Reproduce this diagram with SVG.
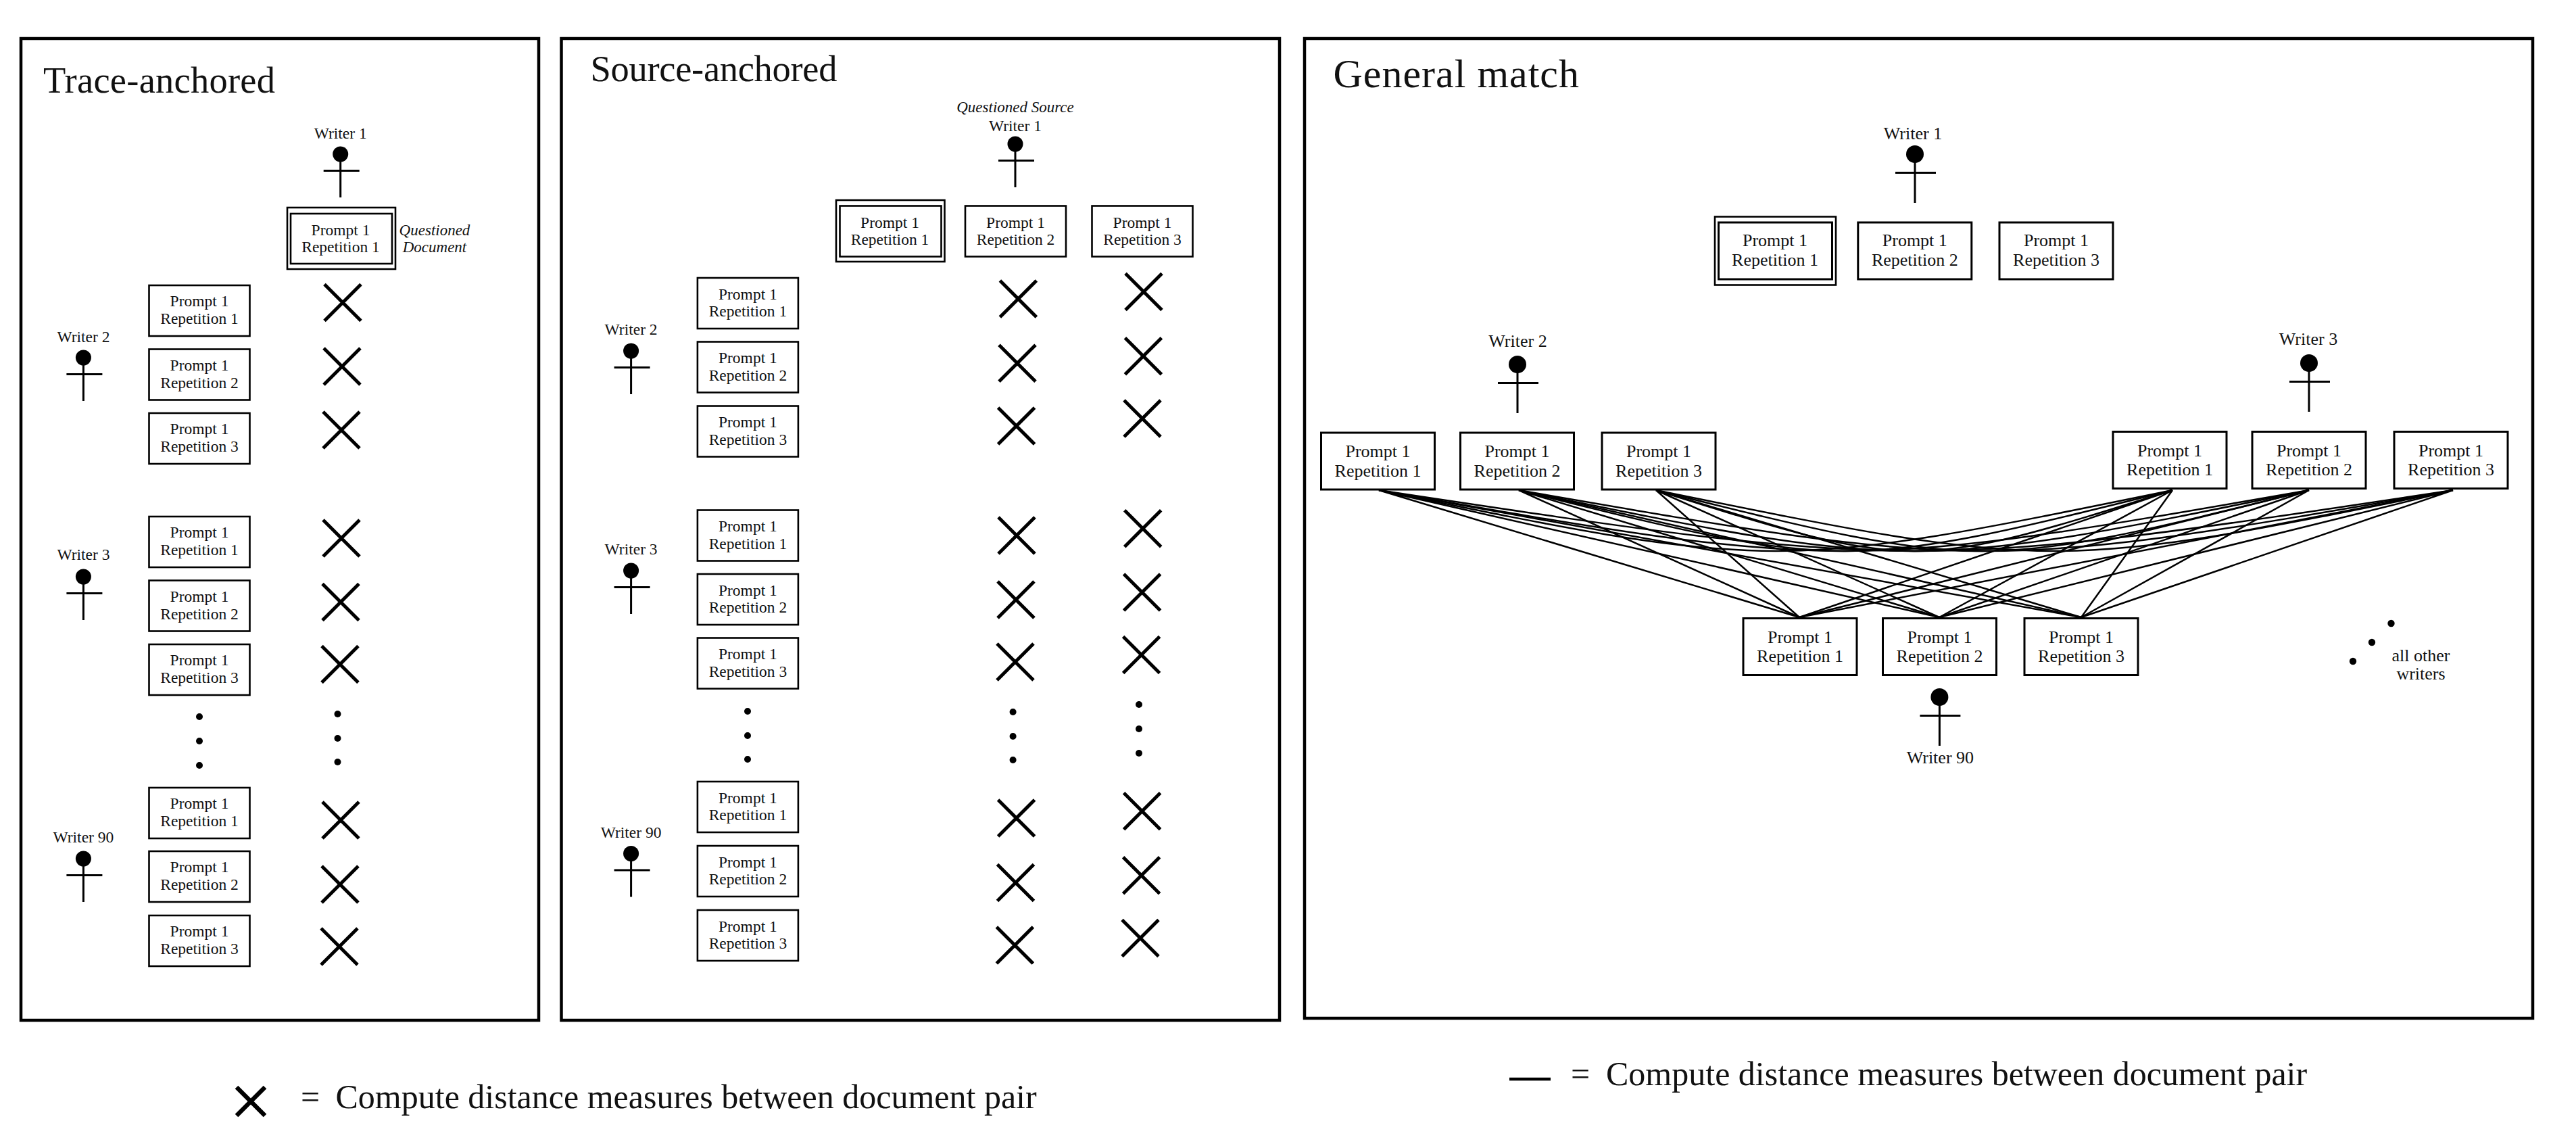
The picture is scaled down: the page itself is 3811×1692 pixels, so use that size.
<svg xmlns="http://www.w3.org/2000/svg" xmlns:xlink="http://www.w3.org/1999/xlink" width="3811" height="1692" viewBox="0 0 3811 1692">
<style>
text{font-family:"Liberation Serif","Times New Roman",serif;fill:#111;text-anchor:middle}
.title{font-size:54.5px;text-anchor:start}
.title3{font-size:60px;text-anchor:start}
.s{font-size:23.5px}
.l{font-size:26px}
.i{font-size:23px;font-style:italic}
.leg{font-size:50px;text-anchor:start}
.panel{fill:#fff;stroke:#000;stroke-width:4.5}
.box{fill:#fff;stroke:#000;stroke-width:2.6}
.bigbox{fill:#fff;stroke:#000;stroke-width:3}
.x{fill:none;stroke:#000;stroke-width:5}
.body{fill:none;stroke:#000;stroke-width:3}
.conn path{fill:none;stroke:#000;stroke-width:2.5}
</style>
<defs>
<path id="xm" class="x" d="M-27-27L27 27M27-27L-27 27"/>
<g id="ps"><circle r="11.5"/><path class="body" d="M-25 24.5H28M0 0V64"/></g>
<g id="pl"><circle r="13"/><path class="body" d="M-29 27.5H31M0 0V72"/></g>
<rect id="bs" class="box" x="-74.5" y="0" width="149" height="75"/>
<rect id="bl" class="bigbox" x="-84" y="0" width="168" height="84"/>
</defs>
<rect x="0" y="0" width="3811" height="1692" fill="#fff"/>

<g id="panel-trace">
<rect class="panel" x="31" y="57" width="766" height="1452"/>
<text class="title" x="64" y="137" textLength="343">Trace-anchored</text>
</g>
<g id="panel-source">
<rect class="panel" x="830.5" y="57" width="1062.5" height="1452"/>
<text class="title" x="873.5" y="120" textLength="365">Source-anchored</text>
</g>
<g id="panel-general">
<rect class="panel" x="1930" y="57" width="1817" height="1449"/>
<text class="title3" x="1972.5" y="129" textLength="363.5">General match</text>
</g>

<g id="t-writer1" transform="translate(503.7 228)"><use href="#ps"/><text class="s" y="-23.5">Writer 1</text></g>
<g id="t-writer2" transform="translate(123.4 529)"><use href="#ps"/><text class="s" y="-23.5">Writer 2</text></g>
<g id="t-writer3" transform="translate(123.4 853)"><use href="#ps"/><text class="s" y="-25">Writer 3</text></g>
<g id="t-writer90" transform="translate(123.4 1270)"><use href="#ps"/><text class="s" y="-24">Writer 90</text></g>

<g id="t-q">
<rect class="box" x="425" y="307" width="160" height="91"/>
<rect class="box" x="430" y="316" width="150" height="74"/>
<text class="s" x="504" y="347.5">Prompt 1</text><text class="s" x="504" y="373">Repetition 1</text>
<text class="i" x="643" y="348">Questioned</text><text class="i" x="643" y="373">Document</text>
</g>
<g id="t-w2r1" transform="translate(295 422)"><use href="#bs"/><text class="s" y="31">Prompt 1</text><text class="s" y="57">Repetition 1</text></g>
<g id="t-w2r2" transform="translate(295 516.5)"><use href="#bs"/><text class="s" y="31">Prompt 1</text><text class="s" y="57">Repetition 2</text></g>
<g id="t-w2r3" transform="translate(295 611)"><use href="#bs"/><text class="s" y="31">Prompt 1</text><text class="s" y="57">Repetition 3</text></g>
<g id="t-w3r1" transform="translate(295 764)"><use href="#bs"/><text class="s" y="31">Prompt 1</text><text class="s" y="57">Repetition 1</text></g>
<g id="t-w3r2" transform="translate(295 858.5)"><use href="#bs"/><text class="s" y="31">Prompt 1</text><text class="s" y="57">Repetition 2</text></g>
<g id="t-w3r3" transform="translate(295 953)"><use href="#bs"/><text class="s" y="31">Prompt 1</text><text class="s" y="57">Repetition 3</text></g>
<g id="t-w90r1" transform="translate(295 1165)"><use href="#bs"/><text class="s" y="31">Prompt 1</text><text class="s" y="57">Repetition 1</text></g>
<g id="t-w90r2" transform="translate(295 1259)"><use href="#bs"/><text class="s" y="31">Prompt 1</text><text class="s" y="57">Repetition 2</text></g>
<g id="t-w90r3" transform="translate(295 1354)"><use href="#bs"/><text class="s" y="31">Prompt 1</text><text class="s" y="57">Repetition 3</text></g>
<g id="t-marks">
<use href="#xm" x="507" y="447.5"/><use href="#xm" x="506" y="542"/><use href="#xm" x="505" y="636"/>
<use href="#xm" x="505" y="796"/><use href="#xm" x="504" y="890.5"/><use href="#xm" x="503" y="982.5"/>
<use href="#xm" x="504" y="1213"/><use href="#xm" x="503" y="1308"/><use href="#xm" x="502" y="1400"/>
<circle cx="295" cy="1060" r="5"/><circle cx="295" cy="1096" r="5"/><circle cx="295" cy="1132" r="5"/>
<circle cx="499.5" cy="1056" r="5"/><circle cx="499.5" cy="1092" r="5"/><circle cx="499.5" cy="1127" r="5"/>
</g>

<g id="s-writer1" transform="translate(1502 213)"><use href="#ps"/><text class="s" y="-19">Writer 1</text><text class="i" y="-47">Questioned Source</text></g>
<g id="s-writer2" transform="translate(933.6 519)"><use href="#ps"/><text class="s" y="-24.5">Writer 2</text></g>
<g id="s-writer3" transform="translate(933.6 844)"><use href="#ps"/><text class="s" y="-24.5">Writer 3</text></g>
<g id="s-writer90" transform="translate(933.6 1262.5)"><use href="#ps"/><text class="s" y="-24">Writer 90</text></g>
<g id="s-q">
<rect class="box" x="1237" y="296" width="160.5" height="91"/>
<rect class="box" x="1242.5" y="304.5" width="150" height="75"/>
<text class="s" x="1316.5" y="337">Prompt 1</text><text class="s" x="1316.5" y="362">Repetition 1</text>
</g>
<g id="s-w1r2" transform="translate(1502.5 304.5)"><use href="#bs"/><text class="s" y="32.5">Prompt 1</text><text class="s" y="57.5">Repetition 2</text></g>
<g id="s-w1r3" transform="translate(1690 304.5)"><use href="#bs"/><text class="s" y="32.5">Prompt 1</text><text class="s" y="57.5">Repetition 3</text></g>
<g id="s-w2r1" transform="translate(1106.4 411)"><use href="#bs"/><text class="s" y="31.5">Prompt 1</text><text class="s" y="57">Repetition 1</text></g>
<g id="s-w2r2" transform="translate(1106.4 505.5)"><use href="#bs"/><text class="s" y="31.5">Prompt 1</text><text class="s" y="57">Repetition 2</text></g>
<g id="s-w2r3" transform="translate(1106.4 600.5)"><use href="#bs"/><text class="s" y="31.5">Prompt 1</text><text class="s" y="57">Repetition 3</text></g>
<g id="s-w3r1" transform="translate(1106.4 754.5)"><use href="#bs"/><text class="s" y="31.5">Prompt 1</text><text class="s" y="57">Repetition 1</text></g>
<g id="s-w3r2" transform="translate(1106.4 849)"><use href="#bs"/><text class="s" y="31.5">Prompt 1</text><text class="s" y="57">Repetition 2</text></g>
<g id="s-w3r3" transform="translate(1106.4 943.5)"><use href="#bs"/><text class="s" y="31.5">Prompt 1</text><text class="s" y="57">Repetition 3</text></g>
<g id="s-w90r1" transform="translate(1106.4 1156)"><use href="#bs"/><text class="s" y="31.5">Prompt 1</text><text class="s" y="57">Repetition 1</text></g>
<g id="s-w90r2" transform="translate(1106.4 1251)"><use href="#bs"/><text class="s" y="31.5">Prompt 1</text><text class="s" y="57">Repetition 2</text></g>
<g id="s-w90r3" transform="translate(1106.4 1346)"><use href="#bs"/><text class="s" y="31.5">Prompt 1</text><text class="s" y="57">Repetition 3</text></g>
<g id="s-marks">
<use href="#xm" x="1506.4" y="442"/><use href="#xm" x="1505" y="537.3"/><use href="#xm" x="1503.6" y="630"/>
<use href="#xm" x="1504" y="792"/><use href="#xm" x="1503" y="887"/><use href="#xm" x="1502" y="979"/>
<use href="#xm" x="1503.6" y="1210"/><use href="#xm" x="1502.5" y="1305.5"/><use href="#xm" x="1501.4" y="1398"/>
<use href="#xm" x="1692" y="431.6"/><use href="#xm" x="1691.4" y="526.7"/><use href="#xm" x="1690" y="619"/>
<use href="#xm" x="1690.7" y="781.7"/><use href="#xm" x="1689.6" y="876"/><use href="#xm" x="1688.6" y="968.4"/>
<use href="#xm" x="1689.6" y="1199.7"/><use href="#xm" x="1688.6" y="1294.8"/><use href="#xm" x="1687" y="1387.5"/>
<circle cx="1106" cy="1052" r="5"/><circle cx="1106" cy="1088" r="5"/><circle cx="1106" cy="1123" r="5"/>
<circle cx="1498.6" cy="1053" r="5"/><circle cx="1498.6" cy="1089" r="5"/><circle cx="1498.6" cy="1124" r="5"/>
<circle cx="1685" cy="1042" r="5"/><circle cx="1685" cy="1078" r="5"/><circle cx="1685" cy="1114" r="5"/>
</g>

<g id="connectors" class="conn">
<path d="M2040 725C2627 845 2627 845 3214 725"/>
<path d="M2040 725C2728 845 2728 845 3416 725"/>
<path d="M2040 725C2834.5 845 2834.5 845 3629 725"/>
<path d="M2247 725C2730.5 845 2730.5 845 3214 725"/>
<path d="M2247 725C2831.5 845 2831.5 845 3416 725"/>
<path d="M2247 725C2938 845 2938 845 3629 725"/>
<path d="M2450 725C2832 845 2832 845 3214 725"/>
<path d="M2450 725C2933 845 2933 845 3416 725"/>
<path d="M2450 725C3039.5 845 3039.5 845 3629 725"/>
<path d="M2040 725L2662 913M2040 725L2869 913M2040 725L3079 913"/>
<path d="M2247 725L2662 913M2247 725L2869 913M2247 725L3079 913"/>
<path d="M2450 725L2662 913M2450 725L2869 913M2450 725L3079 913"/>
<path d="M3214 725L2662 913M3214 725L2869 913M3214 725L3079 913"/>
<path d="M3416 725L2662 913M3416 725L2869 913M3416 725L3079 913"/>
<path d="M3629 725L2662 913M3629 725L2869 913M3629 725L3079 913"/>
</g>

<g id="g-writer1" transform="translate(2833 228)"><use href="#pl"/><text class="l" x="-3" y="-22.5">Writer 1</text></g>
<g id="g-writer2" transform="translate(2245 539)"><use href="#pl"/><text class="l" x="0.5" y="-26">Writer 2</text></g>
<g id="g-writer3" transform="translate(3416 537)"><use href="#pl"/><text class="l" x="-1" y="-27">Writer 3</text></g>
<g id="g-writer90" transform="translate(2869.4 1031)"><use href="#pl"/><text class="l" x="1" y="98">Writer 90</text></g>
<g id="g-q">
<rect class="box" x="2537" y="320.5" width="179" height="101"/>
<rect class="bigbox" x="2542.5" y="329" width="168" height="84"/>
<text class="l" x="2626" y="364">Prompt 1</text><text class="l" x="2626" y="392.5">Repetition 1</text>
</g>
<g id="g-w1r2" transform="translate(2832.8 329)"><use href="#bl"/><text class="l" y="35">Prompt 1</text><text class="l" y="63.5">Repetition 2</text></g>
<g id="g-w1r3" transform="translate(3042 329)"><use href="#bl"/><text class="l" y="35">Prompt 1</text><text class="l" y="63.5">Repetition 3</text></g>
<g id="g-w2r1" transform="translate(2038.5 640)"><use href="#bl"/><text class="l" y="36">Prompt 1</text><text class="l" y="64.5">Repetition 1</text></g>
<g id="g-w2r2" transform="translate(2244.5 640)"><use href="#bl"/><text class="l" y="36">Prompt 1</text><text class="l" y="64.5">Repetition 2</text></g>
<g id="g-w2r3" transform="translate(2454 640)"><use href="#bl"/><text class="l" y="36">Prompt 1</text><text class="l" y="64.5">Repetition 3</text></g>
<g id="g-w3r1" transform="translate(3210 638.5)"><use href="#bl"/><text class="l" y="36">Prompt 1</text><text class="l" y="64.5">Repetition 1</text></g>
<g id="g-w3r2" transform="translate(3416 638.5)"><use href="#bl"/><text class="l" y="36">Prompt 1</text><text class="l" y="64.5">Repetition 2</text></g>
<g id="g-w3r3" transform="translate(3626 638.5)"><use href="#bl"/><text class="l" y="36">Prompt 1</text><text class="l" y="64.5">Repetition 3</text></g>
<g id="g-w90r1" transform="translate(2663 914.5)"><use href="#bl"/><text class="l" y="36">Prompt 1</text><text class="l" y="64.5">Repetition 1</text></g>
<g id="g-w90r2" transform="translate(2869.5 914.5)"><use href="#bl"/><text class="l" y="36">Prompt 1</text><text class="l" y="64.5">Repetition 2</text></g>
<g id="g-w90r3" transform="translate(3079 914.5)"><use href="#bl"/><text class="l" y="36">Prompt 1</text><text class="l" y="64.5">Repetition 3</text></g>
<g id="g-others">
<circle cx="3537.5" cy="922" r="5.2"/><circle cx="3509" cy="950" r="5.2"/><circle cx="3481" cy="978" r="5.2"/>
<text class="l" x="3581.5" y="977.5">all other</text><text class="l" x="3581.5" y="1005">writers</text>
</g>

<g id="legend-left">
<path class="x" style="stroke-width:6.5" d="M350 1608L392 1650M392 1608L350 1650"/>
<text class="leg" x="445" y="1639">= <tspan x="496.5">Compute distance measures between document pair</tspan></text>
</g>
<g id="legend-right">
<path d="M2233 1596H2294" fill="none" stroke="#000" stroke-width="4.5"/>
<text class="leg" x="2324" y="1605">= <tspan x="2376">Compute distance measures between document pair</tspan></text>
</g>
</svg>
